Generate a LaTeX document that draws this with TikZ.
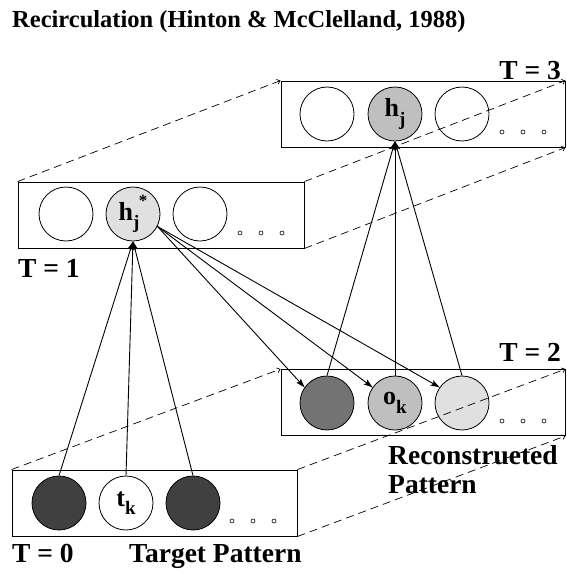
\documentclass[tikz,border=0pt]{standalone}
\usepackage{fontspec}
\setmainfont{Liberation Serif}
\usetikzlibrary{arrows.meta}

% unit label with a lowered subscript (and optional raised star)
\newcommand\unitlbl[2]{#1\raisebox{-0.32em}{\fontsize{19}{19}\selectfont #2}}
\newcommand\unitlblstar[2]{#1\raisebox{-0.32em}{\fontsize{19}{19}\selectfont #2}\kern-0.5pt\raisebox{0.55em}{\fontsize{17}{17}\selectfont *}}

\begin{document}
\begin{tikzpicture}[x=1pt,y=-1pt,
  titlefont/.style={font=\fontsize{24.5}{28}\selectfont\bfseries, inner sep=0pt},
  lbl/.style={font=\fontsize{27.5}{30}\selectfont\bfseries, inner sep=0pt},
  layer/.style={draw=black, line width=0.9pt, minimum width=285pt, minimum height=66pt, inner sep=0pt},
  unit/.style={circle, draw=black, line width=0.8pt, minimum size=54pt, inner sep=0pt,
               font=\fontsize{26}{28}\selectfont\bfseries},
  dot/.style={circle, draw=black, line width=0.6pt, minimum size=4pt, inner sep=0pt},
  link/.style={line width=0.9pt, -{Stealth[length=9pt,width=6pt,inset=2pt]}},
  timeshift/.style={line width=0.7pt, dash pattern=on 8pt off 5pt, -{Straight Barb[length=3pt,width=5pt]}}
]
\useasboundingbox (0,0) rectangle (566,573);

% title
\node[titlefont, anchor=base west] (title) at (12,27) {Recirculation (Hinton \& McClelland, 1988)};

% layer boxes
\node[layer] (b0) at (154.5,503) {};
\node[layer, minimum width=286pt] (b1) at (161,215) {};
\node[layer, minimum width=284pt] (b2) at (423,402.5) {};
\node[layer, minimum width=284pt] (b3) at (423,114) {};

% T = 0 : target pattern
\node[unit, fill=black!75] (t1) at (59,503) {};
\node[unit, fill=white] (t2) at (126,503) {\unitlbl{t}{k}};
\node[unit, fill=black!75] (t3) at (193,503) {};
\node[dot] (d01) at (232,521) {};
\node[dot] (d02) at (253,521) {};
\node[dot] (d03) at (274,521) {};

% T = 1 : hidden layer
\node[unit, fill=white] (h1) at (66,214) {};
\node[unit, fill=black!12] (hs) at (133,214) {\unitlblstar{h}{j}};
\node[unit, fill=white] (h3) at (200,214) {};
\node[dot] (d11) at (240,233) {};
\node[dot] (d12) at (261,233) {};
\node[dot] (d13) at (282,233) {};

% T = 2 : reconstructed pattern
\node[unit, fill=black!55] (o1) at (327,403) {};
\node[unit, fill=black!25] (o2) at (395,403) {\unitlbl{o}{k}};
\node[unit, fill=black!12] (o3) at (462,403) {};
\node[dot] (d21) at (502,421) {};
\node[dot] (d22) at (523,421) {};
\node[dot] (d23) at (544,421) {};

% T = 3 : hidden layer again
\node[unit, fill=white] (g1) at (327,114) {};
\node[unit, fill=black!25] (hj) at (395,114) {\unitlbl{h}{j}};
\node[unit, fill=white] (g3) at (462,114) {};
\node[dot] (d31) at (502,132) {};
\node[dot] (d32) at (523,132) {};
\node[dot] (d33) at (544,132) {};

% connections
\foreach \s in {t1,t2,t3} \draw[link] (\s.north) -- (hs.south);
\foreach \s in {o1,o2,o3} \draw[link] (hs.-27) -- (\s.145);
\foreach \s in {o1,o2,o3} \draw[link] (\s.north) -- (hj.south);

% time shift of the layers
\draw[timeshift] (b0.north west) -- (b2.north west);
\draw[timeshift] (b0.north east) -- (b2.north east);
\draw[timeshift] (b0.south east) -- (b2.south east);
\draw[timeshift] (b1.north west) -- (b3.north west);
\draw[timeshift] (b1.north east) -- (b3.north east);
\draw[timeshift] (b1.south east) -- (b3.south east);

% labels
\node[lbl, anchor=base east] (l3) at (561,79) {T = 3};
\node[lbl, anchor=base west] (l1) at (18,277) {T = 1};
\node[lbl, anchor=base east] (l2) at (561,361) {T = 2};
\node[lbl, anchor=base west] (l0) at (12,562) {T = 0};
\node[lbl, anchor=base west] (tp) at (129,562) {Target Pattern};
\node[lbl, anchor=base west] (rp1) at (388,464) {Reconstrueted};
\node[lbl, anchor=base west] (rp2) at (388,493) {Pattern};
\end{tikzpicture}
\end{document}
